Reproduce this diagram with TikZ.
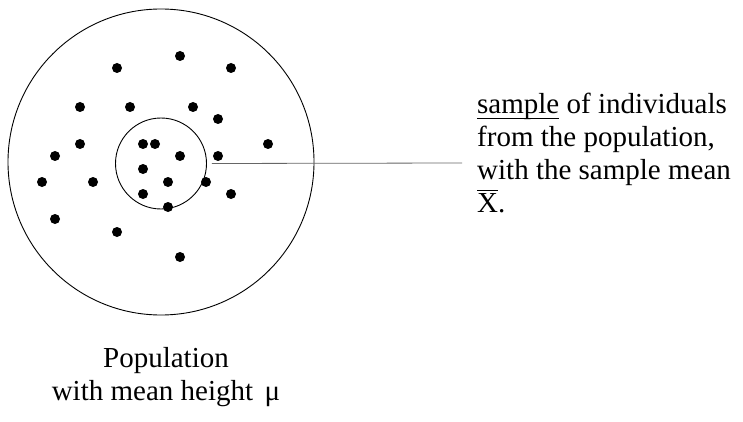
\documentclass[tikz,border=0pt]{standalone}
\usepackage{fontspec}
\setmainfont{Liberation Serif}
\usetikzlibrary{positioning}

% word with a thin line through the descenders
\newcommand{\ulword}[1]{\setbox0\hbox{#1}\rlap{\rule[-5pt]{\wd0}{0.9pt}}\box0\relax}
% letter with a bar just above it
\newcommand{\olword}[1]{\setbox0\hbox{#1}\rlap{\rule[21.5pt]{\wd0}{0.9pt}}\box0\relax}

\begin{document}
\begin{tikzpicture}[x=1pt, y=-1pt, every node/.style={font=\fontsize{29}{33}\selectfont}]
  \useasboundingbox (0,0) rectangle (743,422);
  \node[draw, circle, minimum size=306pt, line width=0.9pt] (population) at (161,162) {};
  \node[draw, circle, minimum size=91pt, line width=0.9pt] (sample) at (161,163.5) {};
  % individuals of the population
  \foreach \px/\py in {180/56, 117/68, 231/68, 80/107, 130/107, 193/107, 218/119,
                       80/144, 143/144, 155/144, 268/144, 55/156, 180/156, 218/156,
                       143/169, 42/182, 93/182, 168/182, 206/182, 143/194, 231/194,
                       168/207, 55/219, 117/232, 180/257}
    \fill (\px,\py) circle[radius=5];
  \node[align=left, anchor=north west, inner sep=0pt] (sampletext) at (477,93)
    {\ulword{sample} of individuals\\from the population,\\with the sample mean\\\olword{X}.};
  \coordinate (tip) at (462,163);
  \draw[gray!80!black, line width=0.8pt] ([xshift=5pt]sample.east) -- (tip);
  \node[align=center, inner sep=0pt, below=32pt of population, xshift=5pt] (poplabel)
    {Population\\with mean height\hspace{0.4em}μ};
\end{tikzpicture}
\end{document}
